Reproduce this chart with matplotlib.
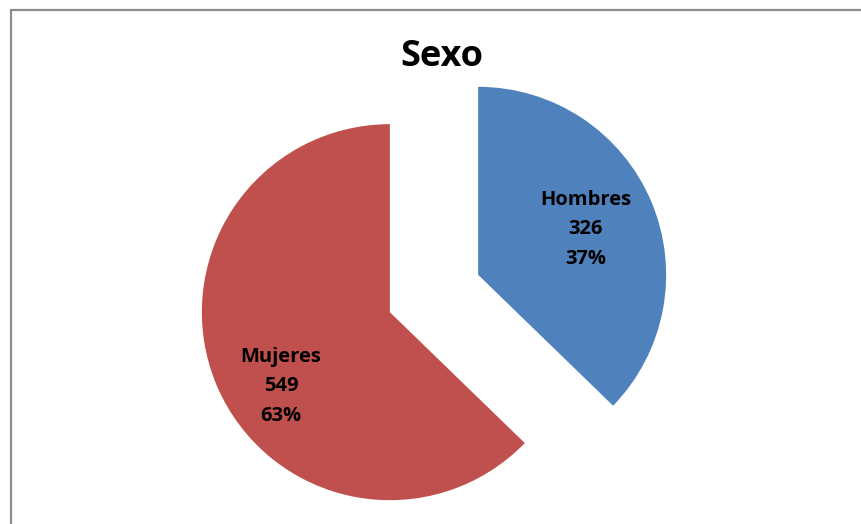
import numpy as np
import matplotlib
matplotlib.use("Agg")
import matplotlib.pyplot as plt
from matplotlib.patches import Rectangle

categories = ["Hombres", "Mujeres"]
counts = [326, 549]
colors = ["#4F81BD", "#C0504D"]
title = "Sexo"

W, H = 861, 524
fig = plt.figure(figsize=(W / 100, H / 100), dpi=100)
ax = fig.add_axes([0, 0, 1, 1])

cx, cy, r = 434, 230.5, 188
explode_frac = [0.255, 0.255]
wedges, _ = ax.pie(counts, colors=colors, startangle=90, counterclock=False,
                   center=(cx, cy), radius=r,
                   explode=[e * r for e in explode_frac], frame=False,
                   wedgeprops=dict(linewidth=0))
ax.set_xlim(0, W)
ax.set_ylim(0, H)
ax.set_aspect("equal")
ax.axis("off")

total = sum(counts)
# label placement: (fraction of radius, angular shift from wedge mid-angle)
label_pos = [(0.62, 0.0), (0.70, 11.3)]
for w, cat, n, (fr, shift), ex in zip(wedges, categories, counts, label_pos, explode_frac):
    mid = np.deg2rad((w.theta1 + w.theta2) / 2)
    ox = cx + ex * r * np.cos(mid)
    oy = cy + ex * r * np.sin(mid)
    a = mid + np.deg2rad(shift)
    tx = ox + fr * r * np.cos(a)
    ty = oy + fr * r * np.sin(a)
    pct = round(100 * n / total)
    ax.text(tx, ty, f"{cat}\n{n}\n{pct}%", ha="center", va="center",
            fontsize=14.5, fontweight="bold", family="Open Sans",
            linespacing=1.62, color="black")

ax.text(442, H - 57, title, ha="center", va="center", fontsize=26,
        fontweight="bold", family="Open Sans")

# chart area border
fig.patches.append(Rectangle((10.5 / W, -0.1), 1.2, (H - 9.5) / H + 0.1,
                             transform=fig.transFigure, fill=False,
                             edgecolor="#8C8C8C", linewidth=1.6))

fig.savefig("out.png", dpi=100)
